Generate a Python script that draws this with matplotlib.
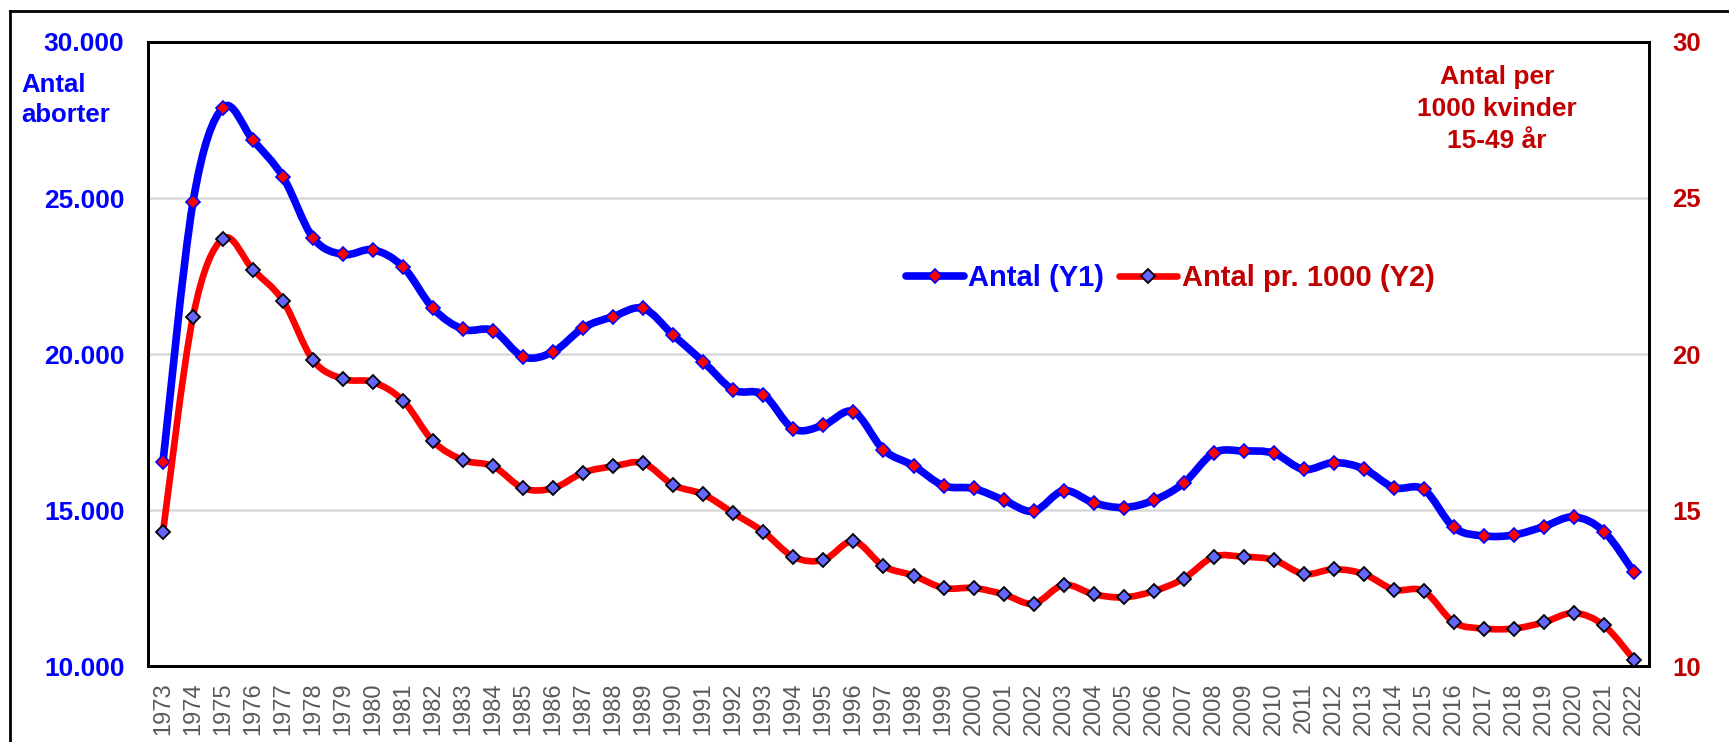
import matplotlib
matplotlib.use('Agg')
import matplotlib.pyplot as plt
from matplotlib.path import Path
from matplotlib.patches import PathPatch
from matplotlib.lines import Line2D
import numpy as np

plt.rcParams['font.family'] = ['Liberation Sans', 'DejaVu Sans']

years = list(range(1973, 2023))
antal = [16540, 24870, 27900, 26850, 25670, 23720, 23190, 23340, 22790, 21460,
         20790, 20750, 19910, 20070, 20840, 21200, 21460, 20600, 19750, 18850,
         18700, 17600, 17720, 18150, 16930, 16420, 15780, 15690, 15320, 14960,
         15620, 15230, 15080, 15310, 15860, 16830, 16890, 16820, 16300, 16520,
         16320, 15720, 15660, 14440, 14170, 14200, 14470, 14780, 14310, 13000]
per1000 = [14.3, 21.2, 23.7, 22.7, 21.7, 19.8, 19.2, 19.1, 18.5, 17.2,
           16.6, 16.4, 15.7, 15.7, 16.2, 16.4, 16.5, 15.8, 15.5, 14.9,
           14.3, 13.5, 13.4, 14.0, 13.2, 12.9, 12.5, 12.5, 12.3, 12.0,
           12.6, 12.3, 12.2, 12.4, 12.8, 13.5, 13.5, 13.4, 12.95, 13.1,
           12.95, 12.45, 12.4, 11.4, 11.2, 11.2, 11.4, 11.7, 11.3, 10.2]

BLUE = '#0000FF'
RED = '#FF0000'
DARKRED = '#C00000'
SLATE = '#6666FF'


def smooth_path(x, y):
    # Excel-style smoothed line: cubic bezier segments, catmull-rom control points
    x = np.asarray(x, float)
    y = np.asarray(y, float)
    p = np.column_stack([x, y])
    pp = np.vstack([p[0], p, p[-1]])
    verts = [p[0]]
    codes = [Path.MOVETO]
    for i in range(len(p) - 1):
        c1 = pp[i + 1] + (pp[i + 2] - pp[i]) / 6.0
        c2 = pp[i + 2] - (pp[i + 3] - pp[i + 1]) / 6.0
        verts += [c1, c2, pp[i + 2]]
        codes += [Path.CURVE4] * 3
    return Path(verts, codes)


fig = plt.figure(figsize=(17.29, 7.42), dpi=100)
ax = fig.add_axes([148 / 1729, 76 / 742, 1501 / 1729, 624 / 742])
ax2 = ax.twinx()

xi = np.arange(len(years))
ax.add_patch(PathPatch(smooth_path(xi, antal), fill=False, edgecolor=BLUE, lw=5.5, capstyle='round', zorder=3))
ax.plot(xi, antal, ls='none', marker='D', ms=7.5, mfc=RED, mec=BLUE, mew=1.2, zorder=4)
ax2.add_patch(PathPatch(smooth_path(xi, per1000), fill=False, edgecolor=RED, lw=4.8, capstyle='round', zorder=3))
ax2.plot(xi, per1000, ls='none', marker='D', ms=7.5, mfc=SLATE, mec='black', mew=1.3, zorder=4)

ax.set_xlim(-0.5, len(years) - 0.5)
ax.set_ylim(10000, 30000)
ax2.set_ylim(10, 30)
ax.set_yticks(range(10000, 30001, 5000))
ax.set_yticklabels([f'{v // 1000}.000' for v in range(10000, 30001, 5000)])
ax2.set_yticks(range(10, 31, 5))
ax.yaxis.grid(True, color='#D9D9D9', lw=1.8)
ax.set_axisbelow(True)

ax.set_xticks(xi)
ax.set_xticklabels([str(y) for y in years], rotation=90, fontsize=17, color='#595959')
ax.tick_params(axis='x', length=0, pad=12)
ax.tick_params(axis='y', length=0, pad=17, labelsize=19, labelcolor=BLUE)
ax2.tick_params(axis='y', length=0, pad=17, labelsize=18.5, labelcolor=DARKRED)
for lbl in ax.get_yticklabels():
    lbl.set_fontweight('bold')
for lbl in ax2.get_yticklabels():
    lbl.set_fontweight('bold')

for a in (ax, ax2):
    for s in a.spines.values():
        s.set_linewidth(2)
        s.set_color('black')

fig.text(21 / 1729, 1 - 73 / 742, 'Antal\naborter', color=BLUE, fontsize=18.5,
         fontweight='bold', ha='left', va='top', linespacing=1.3)
fig.text(1497 / 1729, 1 - 65 / 742, 'Antal per\n1000 kvinder\n15-49 år', color=DARKRED,
         fontsize=19, fontweight='bold', ha='center', va='top', linespacing=1.42)

h1 = Line2D([], [], color=BLUE, lw=5.5, marker='D', ms=7.5, mfc=RED, mec=BLUE, mew=1.2, solid_capstyle='round')
h2 = Line2D([], [], color=RED, lw=4.8, marker='D', ms=7.5, mfc=SLATE, mec='black', mew=1.3, solid_capstyle='round')
leg = ax2.legend([h1, h2], ['Antal (Y1)', 'Antal pr. 1000 (Y2)'], loc='center',
                 bbox_to_anchor=(1170 / 1729, 1 - 278 / 742), bbox_transform=fig.transFigure,
                 ncol=2, frameon=False, handlelength=2.0, handletextpad=0.15, columnspacing=0.5,
                 prop={'size': 21, 'weight': 'bold'})
leg.get_texts()[0].set_color(BLUE)
leg.get_texts()[1].set_color(DARKRED)

# outer chart border
fig.add_artist(Line2D([10 / 1729, 10 / 1729], [0, 1 - 11 / 742], transform=fig.transFigure, color='black', lw=2))
fig.add_artist(Line2D([10 / 1729, 1], [1 - 11 / 742, 1 - 11 / 742], transform=fig.transFigure, color='black', lw=2))

fig.savefig('out.png', dpi=100)
